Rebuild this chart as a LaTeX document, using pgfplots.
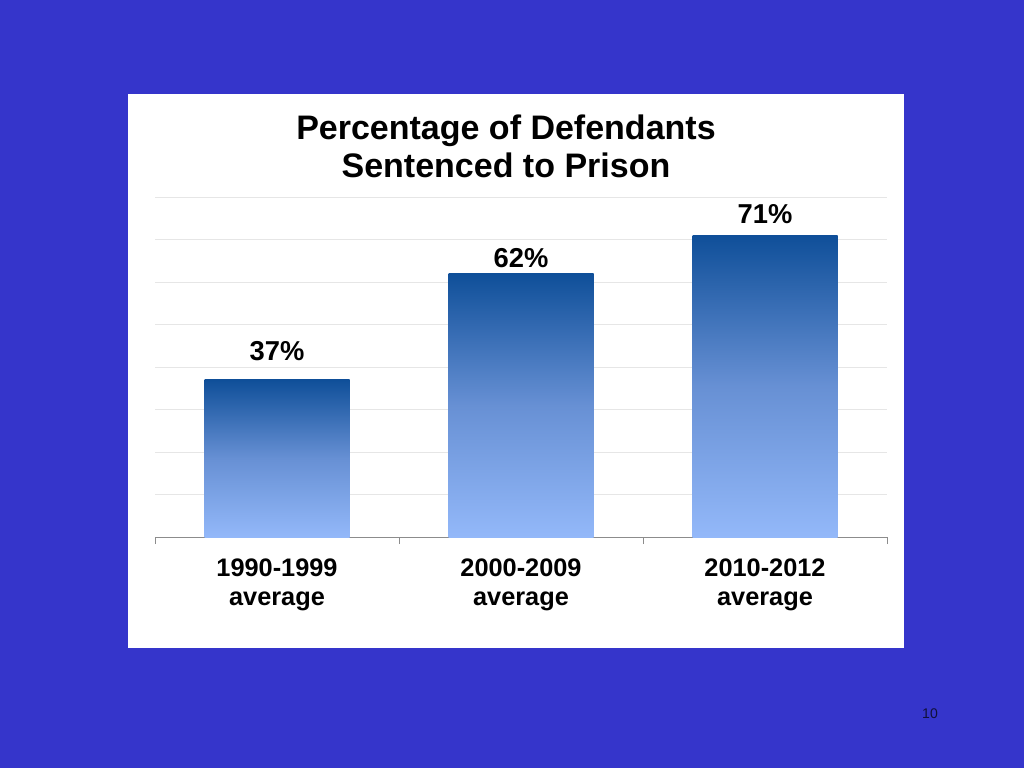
\documentclass[border=0pt]{standalone}
\usepackage{pgfplots}
\pgfplotsset{compat=1.18}
\usepackage{fontspec}
\setmainfont{Liberation Sans}
\definecolor{bg}{HTML}{3535CB}
\definecolor{gridgray}{HTML}{E6E6E6}
\definecolor{axisgray}{HTML}{8C8C8C}
\definecolor{barTop}{HTML}{0F4F99}
\definecolor{barMid}{HTML}{6790D4}
\definecolor{barBot}{HTML}{93B8F9}
\definecolor{pagenum}{HTML}{10103A}
\begin{document}
\begin{tikzpicture}[x=0.75pt,y=-0.75pt]
\fill[bg] (0,0) rectangle (1024,768);
\fill[white] (128,94) rectangle (904,648);
\node[align=center, font=\bfseries\fontsize{25.5}{28.5}\selectfont] at (506,146) {Percentage of Defendants\\Sentenced to Prison};
\node[font=\fontsize{10.5}{12}\selectfont, text=pagenum] at (930,714) {10};
\begin{axis}[
  at={(116.25pt,-402.75pt)}, anchor=south west,
  scale only axis, width=549pt, height=255pt,
  xmin=-0.5, xmax=2.5, ymin=0, ymax=80,
  axis x line*=bottom, axis y line*=left,
  x axis line style={draw=axisgray, line width=0.75pt, -},
  y axis line style={draw=none},
  ytick={0,10,...,80}, yticklabels={}, ytick style={draw=none},
  ymajorgrids, grid style={draw=gridgray, line width=0.75pt},
  xtick={-0.5,0.5,1.5,2.5}, xticklabels={},
  xtick style={draw=axisgray, line width=0.75pt},
  tick align=outside, major tick length=5.25pt,
  extra x ticks={0,1,2},
  extra x tick labels={{1990-1999\\average},{2000-2009\\average},{2010-2012\\average}},
  extra x tick style={major tick length=0pt, xtick style={draw=none},
    xticklabel style={align=center, font=\bfseries\fontsize{19}{21.75}\selectfont, yshift=-13pt}},
  ybar, bar width=108.75pt, bar shift=0pt,
  /pgf/number format/assume math mode=true,
  nodes near coords={\pgfmathprintnumber{\pgfplotspointmeta}\%},
  nodes near coords style={font=\bfseries\fontsize{20.5}{24}\selectfont, anchor=south, yshift=1pt, text=black},
]
\addplot[draw=none, top color=barTop, bottom color=barBot, middle color=barMid,
  nodes near coords style={yshift=10pt}] coordinates {(0,37)};
\addplot[draw=none, top color=barTop, bottom color=barBot, middle color=barMid] coordinates {(1,62)};
\addplot[draw=none, top color=barTop, bottom color=barBot, middle color=barMid,
  nodes near coords style={yshift=4.4pt}] coordinates {(2,71)};
\end{axis}
\end{tikzpicture}
\end{document}
